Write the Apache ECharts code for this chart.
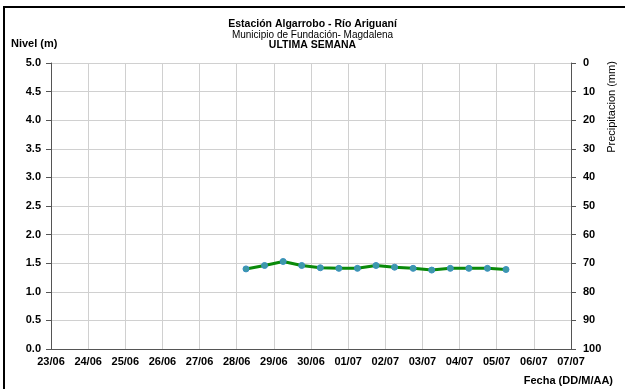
<!DOCTYPE html>
<html>
<head>
<meta charset="utf-8">
<script src="https://cdn.jsdelivr.net/npm/echarts@6/dist/echarts.min.js"></script>
<style>
  html, body { margin: 0; padding: 0; background: #fff; }
  #chart { width: 625px; height: 389px; }
</style>
</head>
<body>
<div id="chart"></div>
<script>
// Day labels along the bottom axis (one per gridline)
const dayLabels = ['23/06','24/06','25/06','26/06','27/06','28/06','29/06','30/06',
                   '01/07','02/07','03/07','04/07','05/07','06/07','07/07'];

// Reading times (two readings a day)
const readingTimes = ['28/06 06:00','28/06 18:00','29/06 06:00','29/06 18:00','30/06 06:00',
                      '30/06 18:00','01/07 06:00','01/07 18:00','02/07 06:00','02/07 18:00',
                      '03/07 06:00','03/07 18:00','04/07 06:00','04/07 18:00','05/07 06:00'];

// Water level (m)
const levels = [1.40, 1.46, 1.53, 1.46, 1.42, 1.41, 1.41, 1.46, 1.43, 1.41, 1.38, 1.41, 1.41, 1.41, 1.39];

// Left axis ticks (m) and right axis ticks (mm)
const levelTicks = { min: 0, max: 5, step: 0.5 };
const rainTicks = { min: 0, max: 100, step: 10 };

// Convert "DD/MM HH:MM" into a fractional day offset from the first day label
function dayOffset(s) {
  const [d, t] = s.split(' ');
  const idx = dayLabels.indexOf(d);
  const [hh, mm] = t.split(':').map(Number);
  return idx + (hh + mm / 60) / 24;
}

const points = readingTimes.map((t, i) => [dayOffset(t), levels[i]]);

const font = 'Liberation Sans, Arial, sans-serif';
const chart = echarts.init(document.getElementById('chart'), null, { renderer: 'canvas' });

chart.setOption({
  animation: false,
  backgroundColor: '#ffffff',
  grid: { left: 51, right: 54, top: 63, bottom: 40, containLabel: false },
  title: [
    { text: 'Estación Algarrobo - Río Ariguaní', left: 'center', top: 14,
      textStyle: { fontFamily: font, fontSize: 10.5, fontWeight: 'bold', color: '#000' } },
    { text: 'Municipio de Fundación- Magdalena', left: 'center', top: 25,
      textStyle: { fontFamily: font, fontSize: 10, fontWeight: 'normal', color: '#000' } },
    { text: 'ULTIMA SEMANA', left: 'center', top: 35,
      textStyle: { fontFamily: font, fontSize: 10.5, fontWeight: 'bold', color: '#000' } }
  ],
  xAxis: {
    type: 'value',
    min: 0,
    max: dayLabels.length - 1,
    interval: 1,
    axisLine: { show: true, lineStyle: { color: '#555', width: 1 } },
    axisTick: { show: false },
    splitLine: { show: true, lineStyle: { color: '#d0d0d0', width: 1 } },
    axisLabel: {
      fontFamily: font, fontSize: 11, fontWeight: 'bold', color: '#000', margin: 7,
      formatter: v => dayLabels[Math.round(v)] || ''
    },
    name: 'Fecha (DD/M/AA)',
    nameLocation: 'end',
    nameGap: 0,
    nameTextStyle: {
      fontFamily: font, fontSize: 11, fontWeight: 'bold', color: '#000',
      align: 'right', verticalAlign: 'top', padding: [26, -42, 0, 0]
    }
  },
  yAxis: [
    {
      type: 'value',
      min: levelTicks.min, max: levelTicks.max, interval: levelTicks.step,
      position: 'left',
      axisLine: { show: true, lineStyle: { color: '#555', width: 1 } },
      axisTick: { show: true, length: 5, lineStyle: { color: '#555' } },
      splitLine: { show: true, lineStyle: { color: '#d0d0d0', width: 1 } },
      axisLabel: {
        fontFamily: font, fontSize: 11, fontWeight: 'bold', color: '#000', margin: 10,
        formatter: v => v.toFixed(1)
      },
      name: 'Nivel (m)',
      nameLocation: 'end',
      nameGap: 14,
      nameTextStyle: {
        fontFamily: font, fontSize: 11, fontWeight: 'bold', color: '#000',
        align: 'left', padding: [0, 0, 0, -40]
      }
    },
    {
      type: 'value',
      min: rainTicks.min, max: rainTicks.max, interval: rainTicks.step,
      inverse: true,
      position: 'right',
      axisLine: { show: true, lineStyle: { color: '#555', width: 1 } },
      axisTick: { show: true, length: 5, lineStyle: { color: '#555' } },
      splitLine: { show: false },
      axisLabel: {
        fontFamily: font, fontSize: 11, fontWeight: 'bold', color: '#000', margin: 12
      }
    }
  ],
  series: [
    {
      type: 'line',
      yAxisIndex: 0,
      data: points,
      symbol: 'circle',
      symbolSize: 6,
      lineStyle: { color: '#0a8a0a', width: 3 },
      itemStyle: { color: '#3d9aa8', borderColor: '#3a8fc0', borderWidth: 1 }
    }
  ],
  graphic: [
    // chart frame (top and left edges)
    { type: 'rect', shape: { x: 3, y: 6, width: 622, height: 2 }, style: { fill: '#000' }, silent: true },
    { type: 'rect', shape: { x: 3, y: 6, width: 2, height: 383 }, style: { fill: '#000' }, silent: true },
    // right axis title, reading bottom to top
    {
      type: 'text', x: 612, y: 107, rotation: Math.PI / 2, silent: true,
      style: {
        text: 'Precipitacion (mm)', fill: '#000',
        font: 'normal 11px Liberation Sans, Arial, sans-serif',
        textAlign: 'center', textVerticalAlign: 'middle'
      }
    }
  ]
});
</script>
</body>
</html>
